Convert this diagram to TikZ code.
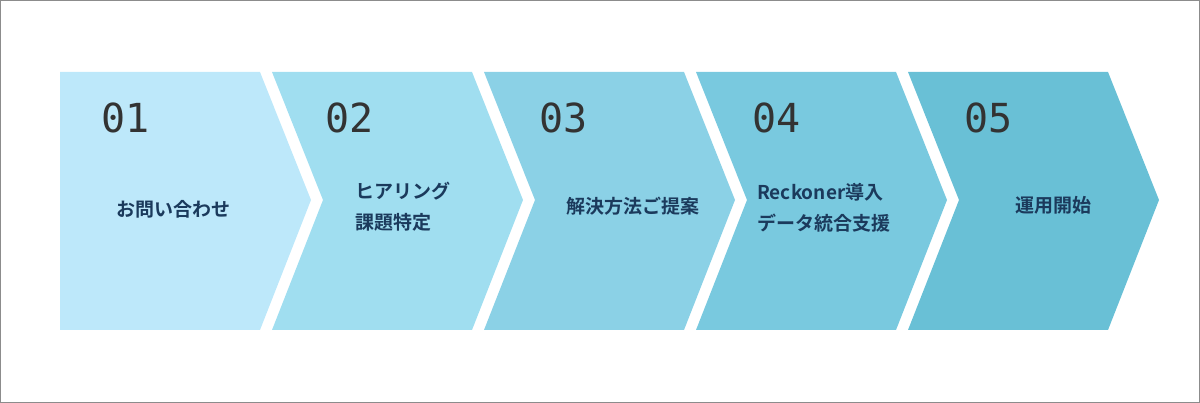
\documentclass[tikz,border=0pt]{standalone}
\usepackage{fontspec}
\setmainfont{Noto Sans CJK JP}
\newfontfamily\numfont{DejaVu Sans Mono}
\newfontfamily\jpb[BoldFont={* Bold}]{Noto Sans CJK JP}
\definecolor{cA}{HTML}{BDE8FA}
\definecolor{cB}{HTML}{A0DEF0}
\definecolor{cC}{HTML}{8BD1E6}
\definecolor{cD}{HTML}{79C9DF}
\definecolor{cE}{HTML}{69C0D6}
\definecolor{navy}{HTML}{1B3A5C}
\begin{document}
\begin{tikzpicture}[x=1pt,y=-1pt,
  num/.style={font=\numfont\fontsize{40}{40}\selectfont, text=black!80, anchor=base west, inner sep=0},
  lab/.style={font=\jpb\bfseries\fontsize{19}{31}\selectfont, text=navy, inner sep=0}]
\path[use as bounding box, draw=black!45, line width=1pt] (0.5,0.5) rectangle (1199.5,402.5);
\fill[cA] (60,72) -- (260,72) -- (311,200) -- (260,330) -- (60,330) -- cycle;
\foreach \i/\c in {1/cB,2/cC,3/cD,4/cE}{
  \fill[\c] ({60+212*\i},72) -- ({260+212*\i},72) -- ({311+212*\i},200) -- ({260+212*\i},330) -- ({60+212*\i},330) -- ({111+212*\i},200) -- cycle;
}
\node[num] (n1) at (101,133) {01};
\node[num] (n2) at (325,133) {02};
\node[num] (n3) at (539,133) {03};
\node[num] (n4) at (752,133) {04};
\node[num] (n5) at (964,133) {05};
\node[lab] (l1) at (173,209) {お問い合わせ};
\node[lab, align=left, anchor=west] (l2) at (355,207) {ヒアリング\\課題特定};
\node[lab] (l3) at (633,206) {解決方法ご提案};
\node[lab, align=left, anchor=west] (l4) at (757,208) {Reckoner導入\\データ統合支援};
\node[lab] (l5) at (1053,205) {運用開始};
\end{tikzpicture}
\end{document}
